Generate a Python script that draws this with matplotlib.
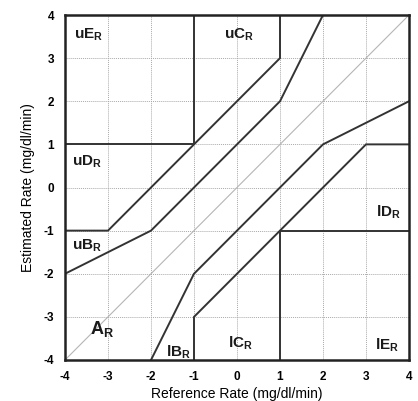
import numpy as np
import matplotlib.pyplot as plt

plt.rcParams['font.family'] = ['Liberation Sans', 'DejaVu Sans']
plt.rcParams['mathtext.fontset'] = 'custom'
plt.rcParams['mathtext.rm'] = 'Liberation Sans'
plt.rcParams['mathtext.bf'] = 'Liberation Sans:bold'
plt.rcParams['axes.unicode_minus'] = False

# zone boundaries of the rate error grid (x, y vertices)
upper_e_x = [-4, -1, -1]
upper_e_y = [1, 1, 4]
upper_d_x = [-4, -3, 1, 1]
upper_d_y = [-1, -1, 3, 4]
upper_b_x = [-4, -2, 1, 2]
upper_b_y = [-2, -1, 2, 4]
lower_b_x = [-2, -1, 2, 4]
lower_b_y = [-4, -2, 1, 2]
lower_d_x = [-1, -1, 3, 4]
lower_d_y = [-4, -3, 1, 1]
lower_e_x = [1, 1, 4]
lower_e_y = [-4, -1, -1]
boundaries = [(upper_e_x, upper_e_y), (upper_d_x, upper_d_y),
              (upper_b_x, upper_b_y), (lower_b_x, lower_b_y),
              (lower_d_x, lower_d_y), (lower_e_x, lower_e_y)]

# zone labels and positions
zone_names = ['uE', 'uC', 'uD', 'uB', 'A', 'lB', 'lC', 'lD', 'lE']
zone_x = [-3.45, 0.05, -3.5, -3.5, -3.15, -1.37, 0.08, 3.52, 3.5]
zone_y = [3.53, 3.53, 0.6, -1.36, -3.27, -3.83, -3.62, -0.57, -3.65]

ticks = [-4, -3, -2, -1, 0, 1, 2, 3, 4]

fig = plt.figure(figsize=(4.18, 4.01), dpi=100)
ax = fig.add_axes([65 / 418, 1 - 360 / 401, 344 / 418, 345 / 401])

ax.grid(True, color='#aaaaaa', linestyle=(0, (1, 1)), linewidth=0.7)
ax.plot([-4, 4], [-4, 4], color='#b5b5b5', linewidth=0.8)
for bx, by in boundaries:
    ax.plot(bx, by, color='#333333', linewidth=1.4, solid_joinstyle='miter')

for name, x, y in zip(zone_names, zone_x, zone_y):
    size = 13 if name == 'A' else 11
    ax.text(x, y, r'$\mathbf{%s_R}$' % name, fontsize=size,
            ha='center', va='center', color='#1a1a1a')

ax.set_xlim(-4, 4)
ax.set_ylim(-4, 4)
ax.set_xticks(ticks)
ax.set_yticks(ticks)
ax.tick_params(length=0, pad=8, labelsize=8.5)
for lab in ax.get_xticklabels() + ax.get_yticklabels():
    lab.set_fontweight('bold')
for s in ax.spines.values():
    s.set_linewidth(1.8)
    s.set_color('#222222')
ax.set_xlabel('Reference Rate (mg/dl/min)', fontsize=10, labelpad=3)
ax.set_ylabel('Estimated Rate (mg/dl/min)', fontsize=10, labelpad=6)

fig.savefig('out.png', dpi=100)
